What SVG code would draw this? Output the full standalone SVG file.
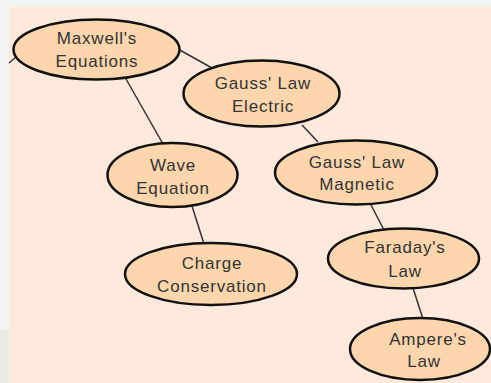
<svg xmlns="http://www.w3.org/2000/svg" width="491" height="383" viewBox="0 0 491 383">
<style>
.node ellipse{fill:#fdd6ad;stroke:#111;stroke-width:2.5}
.node text{font-family:"Liberation Sans",Arial,sans-serif;font-size:17px;fill:#333;text-anchor:middle;letter-spacing:0.8px}
.edges line{stroke:#333;stroke-width:1.5}
</style>
<rect x="0" y="0" width="491" height="383" fill="#f2f4f1"/>
<rect x="0" y="330" width="9" height="53" fill="#e9ece5"/>
<rect x="9" y="7" width="482" height="376" fill="#fdeadc"/>
<g class="edges">
<line x1="9" y1="63" x2="16" y2="57"/>
<line x1="178" y1="49" x2="212" y2="68"/>
<line x1="126" y1="79" x2="163" y2="144"/>
<line x1="192" y1="206" x2="204" y2="244"/>
<line x1="302" y1="125" x2="318" y2="142"/>
<line x1="370" y1="203" x2="384" y2="230"/>
<line x1="413" y1="288" x2="423" y2="319"/>
</g>
<g id="maxwell" class="node"><ellipse cx="96.5" cy="49.5" rx="83" ry="30"/><text x="97" y="44">Maxwell's</text><text x="97" y="67">Equations</text></g>
<g id="gauss-electric" class="node"><ellipse cx="261.5" cy="93.5" rx="78" ry="33"/><text x="263" y="89">Gauss' Law</text><text x="263" y="112">Electric</text></g>
<g id="wave" class="node"><ellipse cx="172.5" cy="175" rx="65" ry="32"/><text x="173" y="171">Wave</text><text x="173" y="194">Equation</text></g>
<g id="gauss-magnetic" class="node"><ellipse cx="356" cy="172.5" rx="81" ry="32"/><text x="357" y="167.5">Gauss' Law</text><text x="357" y="190">Magnetic</text></g>
<g id="charge" class="node"><ellipse cx="211" cy="274" rx="86" ry="31"/><text x="212" y="269">Charge</text><text x="212" y="292">Conservation</text></g>
<g id="faraday" class="node"><ellipse cx="403.5" cy="258.5" rx="75.5" ry="30"/><text x="405" y="253">Faraday's</text><text x="405" y="277">Law</text></g>
<g id="ampere" class="node"><ellipse cx="420" cy="349" rx="70" ry="31"/><text x="428" y="345">Ampere's</text><text x="424" y="367">Law</text></g>
</svg>
